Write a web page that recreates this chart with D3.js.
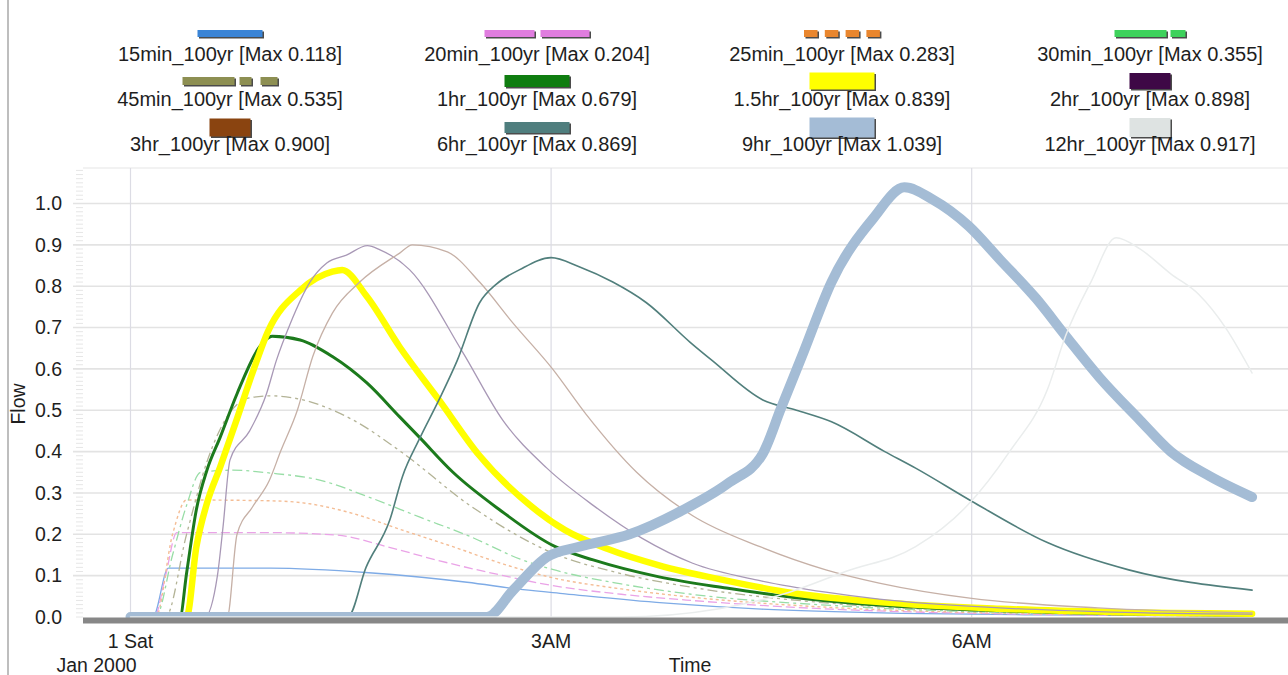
<!DOCTYPE html>
<html><head><meta charset="utf-8">
<script src="https://cdn.jsdelivr.net/npm/d3@7"></script>
<style>body{margin:0;background:#fff;} svg{display:block;font-family:"Liberation Sans",Arial,sans-serif;}</style>
</head><body><svg id="c" width="1288" height="675"></svg>
<script>
// ---------- DATA ----------
const seriesNames = ["15min_100yr","20min_100yr","25min_100yr","30min_100yr","45min_100yr","1hr_100yr","1.5hr_100yr","2hr_100yr","3hr_100yr","6hr_100yr","9hr_100yr","12hr_100yr"];
const seriesMax = [0.118,0.204,0.283,0.355,0.535,0.679,0.839,0.898,0.900,0.869,1.039,0.917];

// hours since 1 Jan 2000 00:00, and flow values
const hrs15min = [0,0.16,0.27,1.0,1.7,2.4,2.8,3.1,3.8,4.5,5.5,6.5,8.0];
const flow15min = [0,0,0.118,0.118,0.107,0.084,0.066,0.056,0.034,0.019,0.009,0.005,0.002];
const hrs20min = [0,0.17,0.25,0.33,1.0,1.47,1.83,2.18,2.66,3.01,3.5,4.0,5.0,6.0,8.0];
const flow20min = [0,0,0.1,0.204,0.204,0.198,0.17,0.138,0.1,0.076,0.055,0.04,0.019,0.009,0.002];
const hrs25min = [0,0.18,0.3,0.4,1.0,1.23,1.59,1.94,2.3,2.66,3.01,3.5,4.0,5.0,6.0,8.0];
const flow25min = [0,0,0.2,0.283,0.281,0.276,0.25,0.21,0.17,0.128,0.095,0.068,0.048,0.023,0.011,0.002];
const hrs30min = [0,0.18,0.3,0.4,0.5,0.73,1.0,1.35,1.7,2.06,2.42,2.78,3.01,3.5,4.0,5.0,6.0,8.0];
const flow30min = [0,0,0.15,0.27,0.35,0.355,0.348,0.331,0.29,0.242,0.195,0.14,0.115,0.08,0.055,0.028,0.013,0.003];
const hrs45min = [0,0.25,0.4,0.55,0.7,0.85,1.0,1.23,1.59,1.94,2.42,3.01,3.5,4.0,5.0,6.0,8.0];
const flow45min = [0,0,0.2,0.38,0.49,0.53,0.535,0.525,0.476,0.397,0.27,0.155,0.105,0.072,0.033,0.015,0.003];
const hrs1hr = [0,0.353,0.40,0.47,0.545,0.64,0.76,0.92,1.01,1.21,1.44,1.686,1.92,2.06,2.3,2.63,3.03,3.3,3.77,4.25,4.72,5.34,6.2,7.0,8.0];
const flow1hr = [0,0,0.106,0.26,0.355,0.435,0.54,0.653,0.679,0.67,0.63,0.566,0.484,0.435,0.35,0.26,0.17,0.138,0.097,0.07,0.048,0.029,0.015,0.008,0.004];
const hrs1_5hr = [0,0.40,0.47,0.545,0.64,0.75,0.88,0.98,1.21,1.44,1.51,1.686,1.92,2.2,2.49,2.85,3.1,3.4,3.77,4.25,4.72,5.34,6.2,7.0,8.0];
const flow1_5hr = [0,0,0.17,0.275,0.363,0.47,0.6,0.69,0.79,0.835,0.839,0.775,0.653,0.525,0.39,0.27,0.21,0.165,0.125,0.088,0.058,0.036,0.02,0.012,0.008];
const hrs2hr = [0,0.53,0.62,0.66,0.71,0.85,0.97,1.04,1.14,1.28,1.40,1.54,1.69,1.78,1.99,2.37,2.655,2.97,3.3,3.65,4.01,4.49,4.96,5.34,6.2,7.0,8.0];
const flow2hr = [0,0,0.1,0.218,0.38,0.45,0.54,0.62,0.71,0.81,0.856,0.875,0.898,0.888,0.84,0.64,0.476,0.36,0.27,0.19,0.13,0.088,0.06,0.043,0.022,0.012,0.007];
const hrs3hr = [0,0.69,0.76,0.87,0.99,1.07,1.19,1.30,1.44,1.635,1.92,2.01,2.26,2.49,2.73,3.01,3.25,3.61,4.01,4.49,4.96,5.34,6.0,6.9,8.0];
const flow3hr = [0,0,0.2,0.266,0.33,0.40,0.50,0.63,0.735,0.81,0.88,0.9,0.883,0.81,0.71,0.6,0.49,0.35,0.245,0.17,0.114,0.082,0.045,0.022,0.01];
const hrs6hr = [0,1.55,1.68,1.85,1.94,2.06,2.2,2.33,2.49,2.61,2.776,3.0,3.2,3.44,3.68,3.99,4.15,4.51,4.75,5.0,5.38,5.6,6.0,6.54,7.12,8.0];
const flow6hr = [0,0,0.12,0.235,0.34,0.43,0.525,0.62,0.76,0.805,0.84,0.869,0.847,0.81,0.76,0.665,0.62,0.525,0.50,0.472,0.40,0.36,0.28,0.18,0.114,0.065];
const hrs9hr = [0,2.54,2.73,2.97,3.2,3.56,3.92,4.27,4.51,4.64,4.8,5.0,5.3,5.52,5.72,5.98,6.2,6.46,6.67,6.91,7.2,7.42,7.70,8.0];
const flow9hr = [0,0,0.065,0.145,0.17,0.2,0.255,0.325,0.395,0.505,0.64,0.81,0.965,1.039,1.01,0.945,0.865,0.77,0.68,0.58,0.476,0.40,0.34,0.29];
const hrs12hr = [0,3.5,4.2,4.7,5.1,5.6,5.97,6.27,6.54,6.67,6.85,7.03,7.2,7.42,7.62,7.81,8.0];
const flow12hr = [0,0,0.02,0.06,0.11,0.17,0.27,0.40,0.55,0.68,0.81,0.917,0.89,0.83,0.78,0.70,0.59];

const yTickValues = [0,0.1,0.2,0.3,0.4,0.5,0.6,0.7,0.8,0.9,1.0];
const xTickHours = [0,3,6];
const xTickLabels = [["1 Sat","Jan 2000"],["3AM"],["6AM"]];
const yAxisTitle = "Flow";
const xAxisTitle = "Time";

// ---------- STYLES ----------
const lineColors = ["#7eabe6","#eaa3e7","#f4bd95","#98dda6","#b3b396","#1c7a1c","#ffff00","#a898b6","#c6b0a6","#517f7c","#a4bcd5","#eaeded"];
const lineWidths = [1.3,1.3,1.4,1.3,1.3,3,6.5,1.3,1.3,1.6,10,1.5];
const lineDash = ["","9,4","3,3","10,4,3,4","10,4,3,4,3,4","","","","","","",""];
const swatchColors = ["#3a84d6","#e07ddf","#e9862e","#3ed25c","#8d8f52","#0f7d10","#ffff00","#3e0846","#8a4410","#4f7e7e","#a4bcd6","#dee3e2"];
const swatchW = [65,105,76,71,95,65,65,41,41,65,65,41];
const swatchH = [7,7,7,7,8,12,17,16,18,11,20,19];
const swatchDash = ["","50,6","13.5,7.3","52,4,15,4","52,5,12,9,17,9","","","","","","",""];

const allHrs = [hrs15min,hrs20min,hrs25min,hrs30min,hrs45min,hrs1hr,hrs1_5hr,hrs2hr,hrs3hr,hrs6hr,hrs9hr,hrs12hr];
const allFlow = [flow15min,flow20min,flow25min,flow30min,flow45min,flow1hr,flow1_5hr,flow2hr,flow3hr,flow6hr,flow9hr,flow12hr];

const t0 = new Date(2000,0,1,0,0,0);
const toDate = h => new Date(t0.getTime() + h*3600e3);

const series = seriesNames.map((n,i)=>({name:n, max:seriesMax[i],
  pts: allHrs[i].map((h,j)=>({t:toDate(h), v:allFlow[i][j]}))}));

// ---------- LAYOUT ----------
const svg = d3.select("#c");
const plotL = 83, plotR = 1288, plotT = 168, plotB = 617;
const x = d3.scaleTime().domain([toDate(0), toDate(6)]).range([130.5, 971.7]);
const y = d3.scaleLinear().domain([0,1]).range([617, 203.5]);
const txtColor = "#1e1e1e";

// left border line
svg.append("line").attr("x1",8).attr("x2",8).attr("y1",0).attr("y2",675).attr("stroke","#a8a8a8").attr("stroke-width",1.5);
// faint top separator
svg.append("line").attr("x1",plotL).attr("x2",plotR).attr("y1",plotT).attr("y2",plotT).attr("stroke","#eeeeee").attr("stroke-width",1.5);

// minor ticks
const minor = d3.range(0,109).map(i=>i/100);
svg.append("g").selectAll("line").data(minor).join("line")
  .attr("x1",76).attr("x2",plotL).attr("y1",d=>y(d)).attr("y2",d=>y(d))
  .attr("stroke","#e6e6e6").attr("stroke-width",1);

// horizontal grid
svg.append("g").selectAll("line").data(yTickValues.slice(1)).join("line")
  .attr("x1",73).attr("x2",plotR).attr("y1",d=>y(d)).attr("y2",d=>y(d))
  .attr("stroke","#e3e3e3").attr("stroke-width",1.6);

// vertical grid
svg.append("g").selectAll("line").data(xTickHours).join("line")
  .attr("x1",d=>x(toDate(d))).attr("x2",d=>x(toDate(d)))
  .attr("y1",plotT).attr("y2",plotB)
  .attr("stroke","#dcdce4").attr("stroke-width",1.2);

// y axis labels
const yAxis = d3.axisLeft(y).tickValues(yTickValues).tickFormat(d3.format(".1f")).tickSize(0).tickPadding(21);
const gy = svg.append("g").attr("transform",`translate(${plotL},0)`).call(yAxis);
gy.select(".domain").remove();
gy.selectAll("text").attr("font-size",19.5).attr("fill",txtColor).attr("font-family","Liberation Sans, Arial, sans-serif");

svg.append("text").attr("transform","translate(25,404) rotate(-90)").attr("text-anchor","middle")
  .attr("font-size",19.5).attr("fill",txtColor).text(yAxisTitle);

// lines
const clip = svg.append("clipPath").attr("id","clip").append("rect")
  .attr("x",plotL).attr("y",plotT).attr("width",plotR-plotL).attr("height",plotB-plotT+10);
const line = d3.line().x(d=>x(d.t)).y(d=>y(d.v)).curve(d3.curveMonotoneX);
svg.append("g").attr("clip-path","url(#clip)").selectAll("path").data(series).join("path")
  .attr("d",d=>line(d.pts)).attr("fill","none")
  .attr("stroke",(d,i)=>lineColors[i]).attr("stroke-width",(d,i)=>lineWidths[i])
  .attr("stroke-dasharray",(d,i)=>lineDash[i]||null)
  .attr("stroke-linejoin","round").attr("stroke-linecap",(d,i)=>lineDash[i]?"butt":"round");

// x axis baseline
svg.append("line").attr("x1",plotL).attr("x2",plotR).attr("y1",620.5).attr("y2",620.5)
  .attr("stroke","#878787").attr("stroke-width",6);

// x tick labels
const xl = svg.append("g").selectAll("text").data(xTickHours).join("text")
  .attr("font-size",19.5).attr("fill",txtColor).attr("text-anchor","middle");
xl.each(function(d,i){
  const sel = d3.select(this);
  const cx = x(toDate(d));
  xTickLabels[i].forEach((s,k)=>{
    sel.append("tspan").attr("x", k===0?cx:cx-34).attr("y",648+k*24).text(s);
  });
});
svg.append("text").attr("x",690).attr("y",672).attr("text-anchor","middle")
  .attr("font-size",19.5).attr("fill",txtColor).text(xAxisTitle);

// legend
const colCenters = [230,537,842,1150];
const rowSwatchY = [33.5,81,127.5];
const rowTextY = [61,106,151];
const lg = svg.append("g");
series.forEach((s,i)=>{
  const c = i%4, r = Math.floor(i/4);
  const cx = colCenters[c];
  const w = swatchW[i], h = swatchH[i];
  const x0 = cx - w/2;
  const sy = rowSwatchY[r];
  lg.append("line").attr("x1",x0+1.5).attr("x2",x0+w+1.5).attr("y1",sy+1.5).attr("y2",sy+1.5)
    .attr("stroke","#2b2b2b").attr("stroke-opacity",0.85).attr("stroke-width",h)
    .attr("stroke-dasharray",swatchDash[i]||null);
  lg.append("line").attr("x1",x0).attr("x2",x0+w).attr("y1",sy).attr("y2",sy)
    .attr("stroke",swatchColors[i]).attr("stroke-width",h)
    .attr("stroke-dasharray",swatchDash[i]||null);
  lg.append("text").attr("x",cx).attr("y",rowTextY[r]).attr("text-anchor","middle")
    .attr("font-size",20).attr("fill",txtColor)
    .text(`${s.name} [Max ${d3.format(".3f")(s.max)}]`);
});
</script></body></html>
